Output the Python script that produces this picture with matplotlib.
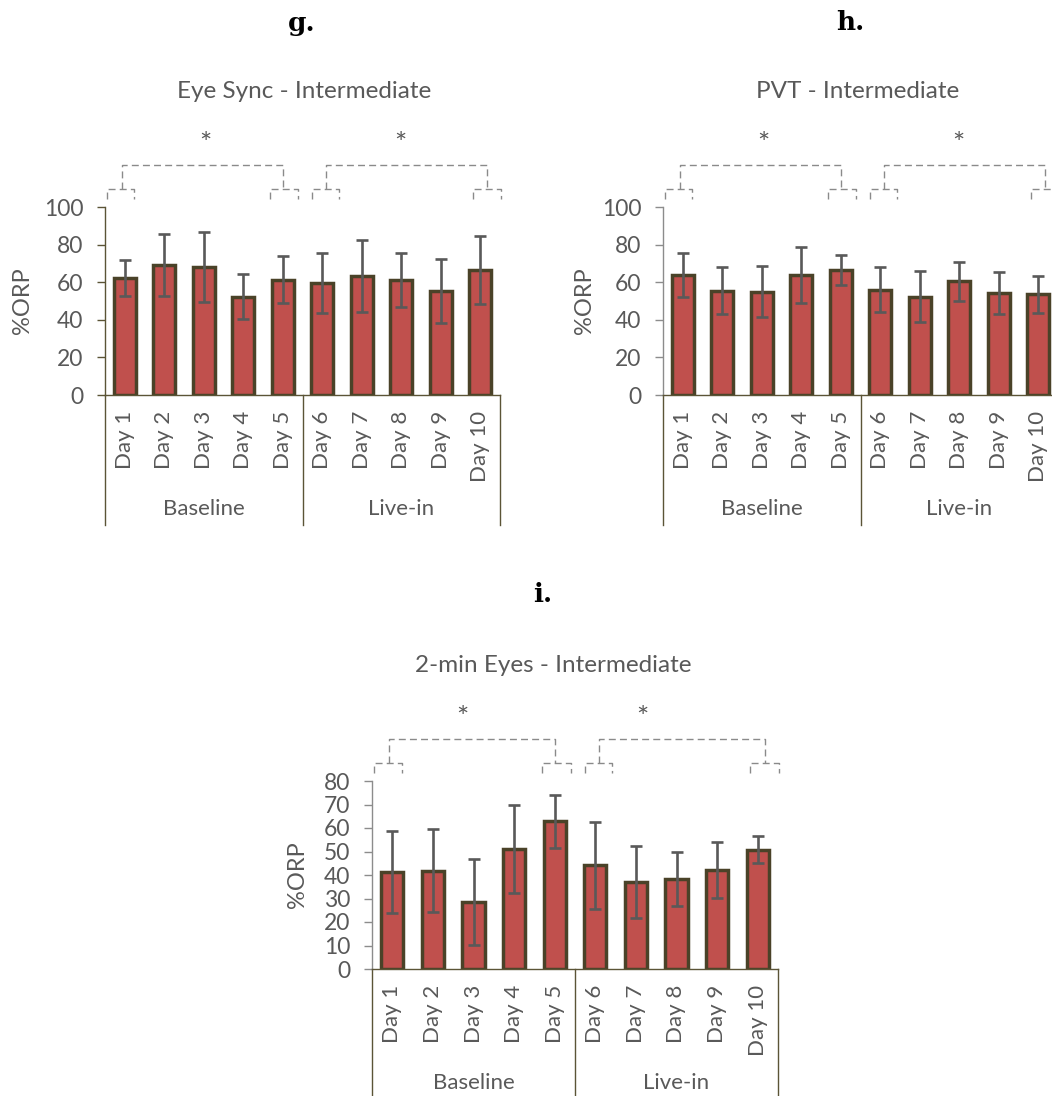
import numpy as np
import matplotlib
matplotlib.use('Agg')
import matplotlib.pyplot as plt

plt.rcParams['font.family'] = ['Lato', 'DejaVu Sans']

days = ['Day 1', 'Day 2', 'Day 3', 'Day 4', 'Day 5',
        'Day 6', 'Day 7', 'Day 8', 'Day 9', 'Day 10']
groups = ['Baseline', 'Live-in']

# mean %ORP and SD per day
eye_sync_mean = [62.3, 69.4, 68.0, 52.2, 61.4, 59.6, 63.2, 61.2, 55.4, 66.5]
eye_sync_err = [9.7, 16.5, 18.5, 12.0, 12.5, 15.8, 19.0, 14.5, 17.0, 18.0]

pvt_mean = [63.7, 55.4, 54.9, 63.7, 66.4, 56.1, 52.2, 60.4, 54.3, 53.5]
pvt_err = [11.8, 12.5, 13.5, 14.8, 8.0, 12.0, 13.5, 10.5, 11.2, 10.0]

eyes2_mean = [41.3, 41.9, 28.6, 51.0, 62.9, 44.2, 37.1, 38.1, 42.2, 50.7]
eyes2_err = [17.6, 17.5, 18.2, 18.8, 11.3, 18.5, 15.3, 11.5, 11.8, 5.7]

BAR = '#c0504d'
EDGE = '#4a4228'
AXIS = '#5b5436'
TXT = '#595959'
DASH = '#8a8a8a'

W, H = 1052, 1096


def px_rect(left, top, width, height):
    return [left / W, 1 - (top + height) / H, width / W, height / H]


def bracket(ax, pts):
    xs = [p[0] for p in pts]
    ys = [p[1] for p in pts]
    ax.plot(xs, ys, transform=ax.get_xaxis_transform(), color=DASH, lw=1.0,
            linestyle=(0, (5, 3)), clip_on=False)


def draw_panel(ax, means, errs, ymax, step, left_color, label_off, star_x):
    x = np.arange(len(days))
    ax.bar(x, means, width=0.55, color=BAR, edgecolor=EDGE, linewidth=2.5, zorder=2)
    ax.errorbar(x, means, yerr=errs, fmt='none', ecolor=TXT, elinewidth=1.9,
                capsize=4.5, capthick=1.9, zorder=3)

    ax.set_xlim(-0.5, 9.5)
    ax.set_ylim(0, ymax)
    ax.set_yticks(np.arange(0, ymax + 1, step))
    ax.set_xticks([])
    for s in ['top', 'right']:
        ax.spines[s].set_visible(False)
    ax.spines['left'].set_color(left_color)
    ax.spines['bottom'].set_color(AXIS)
    ax.spines['left'].set_linewidth(1.0)
    ax.spines['bottom'].set_linewidth(1.0)
    ax.tick_params(axis='y', colors=left_color, length=5.5, width=1.0, pad=10,
                   labelsize=16.5, labelcolor=TXT)

    ax.set_ylabel('%ORP', color=TXT, fontsize=17)
    ax.yaxis.set_label_coords(-label_off / 395, 0.5)

    # two-level category axis
    h_px = 188.0
    tr = ax.get_xaxis_transform()
    for xv in [-0.5, 4.5, 9.5]:
        ax.plot([xv, xv], [0, -130 / h_px], transform=tr, color=AXIS, lw=1.0,
                clip_on=False)
    for i, d in enumerate(days):
        ax.text(i, -16 / h_px, d, transform=tr, rotation=90, ha='center',
                va='top', fontsize=16, color=TXT)
    ax.text(2, -114 / h_px, groups[0], transform=tr, ha='center', va='center',
            fontsize=16, color=TXT)
    ax.text(7, -114 / h_px, groups[1], transform=tr, ha='center', va='center',
            fontsize=16, color=TXT)

    # significance brackets
    lo, mid, top = 1.045, 1.098, 1.226
    for a, b in [(-0.45, 0.23), (3.68, 4.39), (4.74, 5.42), (8.82, 9.53)]:
        bracket(ax, [(a, lo), (a, mid), (b, mid), (b, lo)])
    for a, b in [(-0.07, 4.0), (5.09, 9.17)]:
        bracket(ax, [(a, mid), (a, top), (b, top), (b, mid)])
    for sx in star_x:
        ax.text(sx, 1.33, '*', transform=tr, ha='center', va='center',
                fontsize=21, color=TXT)


fig = plt.figure(figsize=(W / 100, H / 100), dpi=100)

ax_g = fig.add_axes(px_rect(105, 207, 395, 188))
draw_panel(ax_g, eye_sync_mean, eye_sync_err, 100, 20, AXIS, 72, [2.05, 6.98])

ax_h = fig.add_axes(px_rect(663, 207, 395, 188))
draw_panel(ax_h, pvt_mean, pvt_err, 100, 20, '#8c8c8c', 68, [2.05, 6.98])

ax_i = fig.add_axes(px_rect(372, 781, 406, 188))
draw_panel(ax_i, eyes2_mean, eyes2_err, 80, 10, '#8c8c8c', 62, [1.72, 6.17])

# chart titles
fig.text(304 / W, 1 - 91 / H, 'Eye Sync - Intermediate', ha='center', va='center',
         fontsize=17.5, color=TXT)
fig.text(858 / W, 1 - 91 / H, 'PVT - Intermediate', ha='center', va='center',
         fontsize=17.5, color=TXT)
fig.text(553 / W, 1 - 665 / H, '2-min Eyes - Intermediate', ha='center', va='center',
         fontsize=17.5, color=TXT)

# panel letters
for lx, ly, s in [(302, 23, 'g.'), (850, 22, 'h.'), (543, 594, 'i.')]:
    fig.text(lx / W, 1 - ly / H, s, ha='center', va='center', fontsize=19,
             fontweight='bold', family='DejaVu Serif', color='black')

fig.savefig('out.png', dpi=100)
